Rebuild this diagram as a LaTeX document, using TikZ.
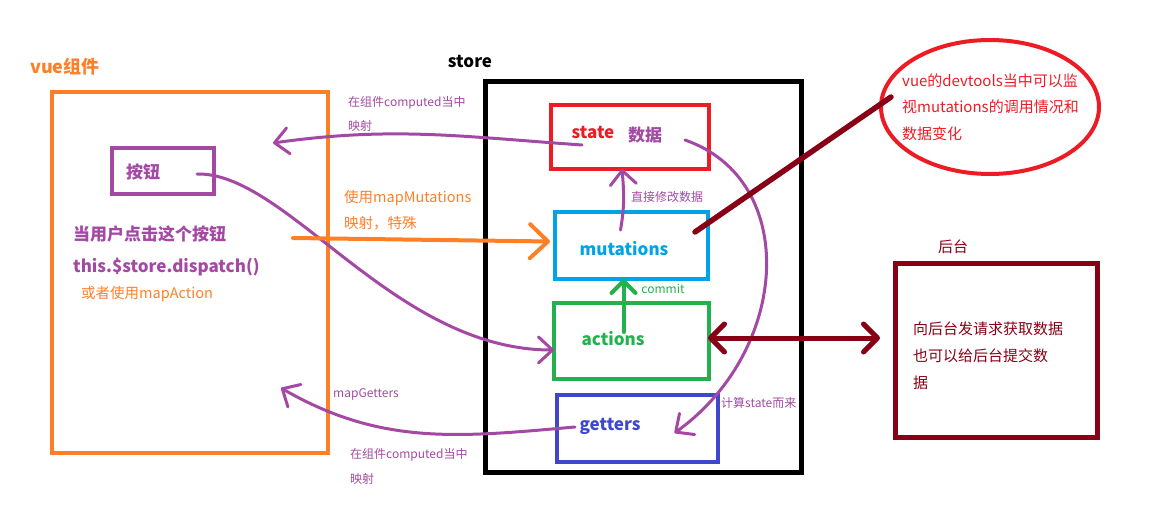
\documentclass[tikz,border=0pt]{standalone}
\usepackage{fontspec}
\setmainfont{Noto Sans CJK SC}
\usetikzlibrary{arrows.meta,calc,shapes.geometric}
\definecolor{PaintOrange}{RGB}{255,127,39}
\definecolor{PaintPurple}{RGB}{163,73,164}
\definecolor{PaintRed}{RGB}{237,28,36}
\definecolor{PaintCyan}{RGB}{0,162,232}
\definecolor{PaintGreen}{RGB}{34,177,76}
\definecolor{PaintIndigo}{RGB}{63,72,204}
\definecolor{PaintMaroon}{RGB}{136,0,21}

\begin{document}
\begin{tikzpicture}[x=1pt,y=-1pt,
  box/.style={draw, line width=4.5pt, inner sep=0pt, outer sep=0pt},
  big/.style={font=\fontsize{17}{20}\selectfont\bfseries},
  small/.style={font=\fontsize{12}{14}\selectfont, anchor=west, inner sep=0pt},
  mid/.style={font=\fontsize{14.5}{17}\selectfont, anchor=west, inner sep=0pt},
  hand/.style={line width=3pt, line cap=round, PaintPurple, -{Straight Barb[round,length=14pt,width=26pt]}}]
  \useasboundingbox (0,0) rectangle (1168,505);

  \node[box, PaintOrange, minimum width=276pt, minimum height=361pt] (vue) at (190,272.5) {};
  \node[box, line width=5pt, minimum width=316pt, minimum height=390pt] (store) at (643,277) {};
  \node[box, PaintRed, minimum width=158pt, minimum height=64pt] (state) at (630,137) {};
  \node[box, PaintCyan, minimum width=153pt, minimum height=67pt] (mut) at (631.5,245.5) {};
  \node[box, PaintGreen, minimum width=155pt, minimum height=76pt] (act) at (631.5,341) {};
  \node[box, PaintIndigo, minimum width=161pt, minimum height=67pt] (get) at (637.5,428.5) {};
  \node[box, PaintPurple, minimum width=102pt, minimum height=46pt] (btn) at (163,171) {};
  \node[box, PaintMaroon, line width=5pt, minimum width=202pt, minimum height=173pt] (back) at (996,350.5) {};
  \node[box, ellipse, PaintRed, line width=4pt, minimum width=218pt, minimum height=134pt] (dev) at (990,107) {};

  \node[big, PaintOrange, font=\fontsize{18}{20}\selectfont\bfseries] (vueLbl) at (65,67) {vue组件};
  \node[big] (storeLbl) at (470,62) {store};
  \node[big, PaintRed] (stateTxt) at (593,133) {state};
  \node[big, PaintPurple] (stateData) at (645,135) {数据};
  \node[big, PaintCyan] (mutTxt) at (624,249) {mutations};
  \node[big, PaintGreen] (actTxt) at (613,339) {actions};
  \node[big, PaintIndigo] (getTxt) at (610,426) {getters};
  \node[big, PaintPurple] (btnTxt) at (143,172) {按钮};
  \node[big, PaintPurple, anchor=west, inner sep=0pt] (clickTxt) at (73,234) {当用户点击这个按钮};
  \node[big, PaintPurple, anchor=west, inner sep=0pt] (dispTxt) at (73,267) {this.\$store.dispatch()};
  \node[mid, PaintOrange] (mapAct) at (81,294) {或者使用mapAction};
  \node[small, PaintPurple] (topMap1) at (348,103) {在组件computed当中};
  \node[small, PaintPurple] (topMap2) at (348,126) {映射};
  \node[mid, PaintOrange] (mutMap1) at (344,198) {使用mapMutations};
  \node[mid, PaintOrange] (mutMap2) at (344,223) {映射，特殊};
  \node[small, PaintPurple, anchor=center] (direct) at (667,197) {直接修改数据};
  \node[small, PaintGreen, anchor=center] (commit) at (663,289) {commit};
  \node[small, PaintPurple] (fromState) at (721,403) {计算state而来};
  \node[small, PaintPurple] (getMap) at (333,394) {mapGetters};
  \node[small, PaintPurple] (botMap1) at (350,455) {在组件computed当中};
  \node[small, PaintPurple] (botMap2) at (350,479) {映射};
  \node[mid, PaintRed, align=left, font=\fontsize{15}{26.5}\selectfont] (devTxt) at (902,107) {vue的devtools当中可以监\\视mutations的调用情况和\\数据变化};
  \node[mid, PaintMaroon, anchor=center, font=\fontsize{15}{18}\selectfont] (backLbl) at (953,247) {后台};
  \node[mid, PaintMaroon, align=left, font=\fontsize{15}{27}\selectfont] (backTxt) at (913,356) {向后台发请求获取数据\\也可以给后台提交数\\据};

  \coordinate (vueOut) at (273,143);
  \coordinate (getIn) at (281,388);
  \draw[hand] ($(state.center)+(-48,8)$) to[out=176,in=8] (vueOut);
  \draw[hand] ($(btn.east)+(-17,3)$) .. controls +(90,-2) and +(-160,0) .. ($(act.west)+(0,9)$);
  \draw[hand, PaintOrange, line width=4pt, -{Straight Barb[round,length=18pt,width=34pt]}] ($(vue.east)+(-35,-34.5)$) -- ($(mut.west)+(-5,-4)$);
  \draw[hand] ($(mut.north)+(-11,18)$) to[out=80,in=-85] ($(state.south)+(-8,0)$);
  \draw[hand, PaintGreen, line width=4pt, -{Straight Barb[round,length=12pt,width=24pt]}] ($(act.center)+(-8,-9)$) -- ($(mut.south)+(-8,0)$);
  \draw[hand] ($(state.east)+(-24,3)$) .. controls (800,180) and (790,350) .. ($(get.center)+(37,4.5)$);
  \draw[hand] ($(get.west)+(18,-1.5)$) to[out=185,in=-30] (getIn);
  \draw[PaintMaroon, line width=5.5pt, line cap=round] ($(mut.east)+(-13,-13.5)$) -- ($(dev.west)+(10,-10)$);
  \draw[PaintMaroon, line width=5pt, line cap=round, {Straight Barb[round,length=14pt,width=28pt]}-{Straight Barb[round,length=14pt,width=28pt]}] ($(act.east)+(-1,-3)$) -- ($(back.west |- act.east)+(-15,-3)$);
\end{tikzpicture}
\end{document}
